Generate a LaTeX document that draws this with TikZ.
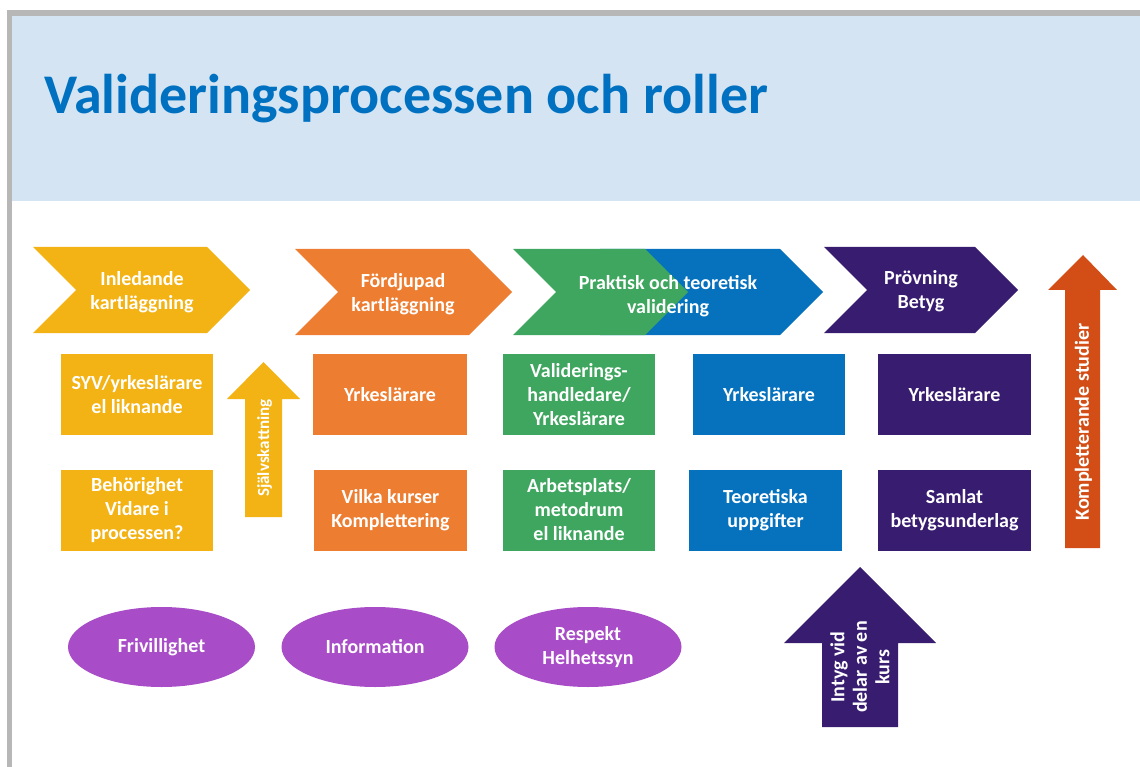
\documentclass[tikz,border=0pt]{standalone}
\usepackage{fontspec}
\setmainfont{Carlito}
\usetikzlibrary{shapes.geometric}
\definecolor{frame}{HTML}{B7B7B7}
\definecolor{header}{HTML}{D4E4F2}
\definecolor{titleblue}{HTML}{0070C0}
\definecolor{gold}{HTML}{F3B315}
\definecolor{orng}{HTML}{ED7D31}
\definecolor{grn}{HTML}{3FA65F}
\definecolor{blu}{HTML}{0672BE}
\definecolor{purp}{HTML}{381C70}
\definecolor{redor}{HTML}{D24E16}
\definecolor{lilac}{HTML}{A84CC7}
\tikzset{
  lbl/.style={text=white, font=\bfseries\fontsize{20}{24}\selectfont, align=center, inner sep=0pt},
  box/.style={lbl, rectangle, minimum width=152pt, minimum height=81pt},
  oval/.style={lbl, ellipse, minimum width=187pt, minimum height=80pt, fill=lilac},
}
\begin{document}
\begin{tikzpicture}[x=1pt, y=-1pt]
\useasboundingbox (0,0) rectangle (1140,767);
% frame and header
\fill[frame] (7,10) rectangle (1140,16);
\fill[frame] (7,10) rectangle (12,767);
\fill[header] (12,16) rectangle (1140,201);
\node[anchor=base west, inner sep=0pt, text=titleblue, font=\bfseries\fontsize{56}{62}\selectfont] (title) at (44,114) {Valideringsprocessen och roller};
% chevrons
\fill[gold] (33,247) -- (207,247) -- (250,290) -- (207,333) -- (33,333) -- (76,290) -- cycle;
\fill[orng] (295,249) -- (469,249) -- (512,292) -- (469,335) -- (295,335) -- (338,292) -- cycle;
\fill[blu] (600,249) -- (780,249) -- (823,292) -- (780,335) -- (600,335) -- (643,292) -- cycle;
\fill[grn] (513,249) -- (645,249) -- (688,292) -- (645,335) -- (513,335) -- (556,292) -- cycle;
\fill[purp] (824,247) -- (975,247) -- (1018,290) -- (975,333) -- (824,333) -- (867,290) -- cycle;
\node[lbl] (c1) at (142,292) {Inledande\\kartläggning};
\node[lbl] (c2) at (403,294) {Fördjupad\\kartläggning};
\node[lbl] (c3) at (668,296.5) {Praktisk och teoretisk\\validering};
\node[lbl] (c4) at (921,291.5) {Prövning\\Betyg};
% boxes
\node[box, fill=gold] (y1) at (137,394.5) {SYV/yrkeslärare\\el liknande};
\node[box, fill=gold] (y2) at (137,510) {Behörighet\\Vidare i\\processen?};
\node[box, fill=orng, minimum width=154pt] (o1) at (390,394.5) {Yrkeslärare};
\node[box, fill=orng, minimum width=153pt] (o2) at (390.5,510) {Vilka kurser\\Komplettering};
\node[box, fill=grn] (g1) at (579,394.5) {Validerings-\\handledare/\\Yrkeslärare};
\node[box, fill=grn] (g2) at (579,510) {Arbetsplats/\\metodrum\\el liknande};
\node[box, fill=blu] (b1) at (769,394.5) {Yrkeslärare};
\node[box, fill=blu, minimum width=153pt] (b2) at (765.5,510) {Teoretiska\\uppgifter};
\node[box, fill=purp, minimum width=153pt] (p1) at (954.5,394.5) {Yrkeslärare};
\node[box, fill=purp, minimum width=153pt] (p2) at (954.5,510) {Samlat\\betygsunderlag};
% vertical arrows
\fill[gold] (245,517) -- (245,399) -- (227,399) -- (263.5,362) -- (300,399) -- (282,399) -- (282,517) -- cycle;
\node[lbl, rotate=90, font=\bfseries\fontsize{17}{20}\selectfont] (ya) at (264.5,448) {Självskattning};
\fill[redor] (1065,548) -- (1065,290) -- (1048,290) -- (1083,255) -- (1117,290) -- (1100,290) -- (1100,548) -- cycle;
\node[lbl, rotate=90, font=\bfseries\fontsize{20}{24}\selectfont] (ra) at (1083.5,422) {Kompletterande studier};
\fill[purp] (822,727) -- (822,643) -- (784,643) -- (860,567) -- (936,643) -- (898,643) -- (898,727) -- cycle;
\node[lbl, rotate=90, font=\bfseries\fontsize{20}{22.5}\selectfont] (pa) at (860,667) {Intyg vid\\delar av en\\kurs};
% ovals
\node[oval] (e1) at (161.5,647) {Frivillighet};
\node[oval] (e2) at (375,647) {Information};
\node[oval] (e3) at (588,647) {Respekt\\Helhetssyn};
\end{tikzpicture}
\end{document}
